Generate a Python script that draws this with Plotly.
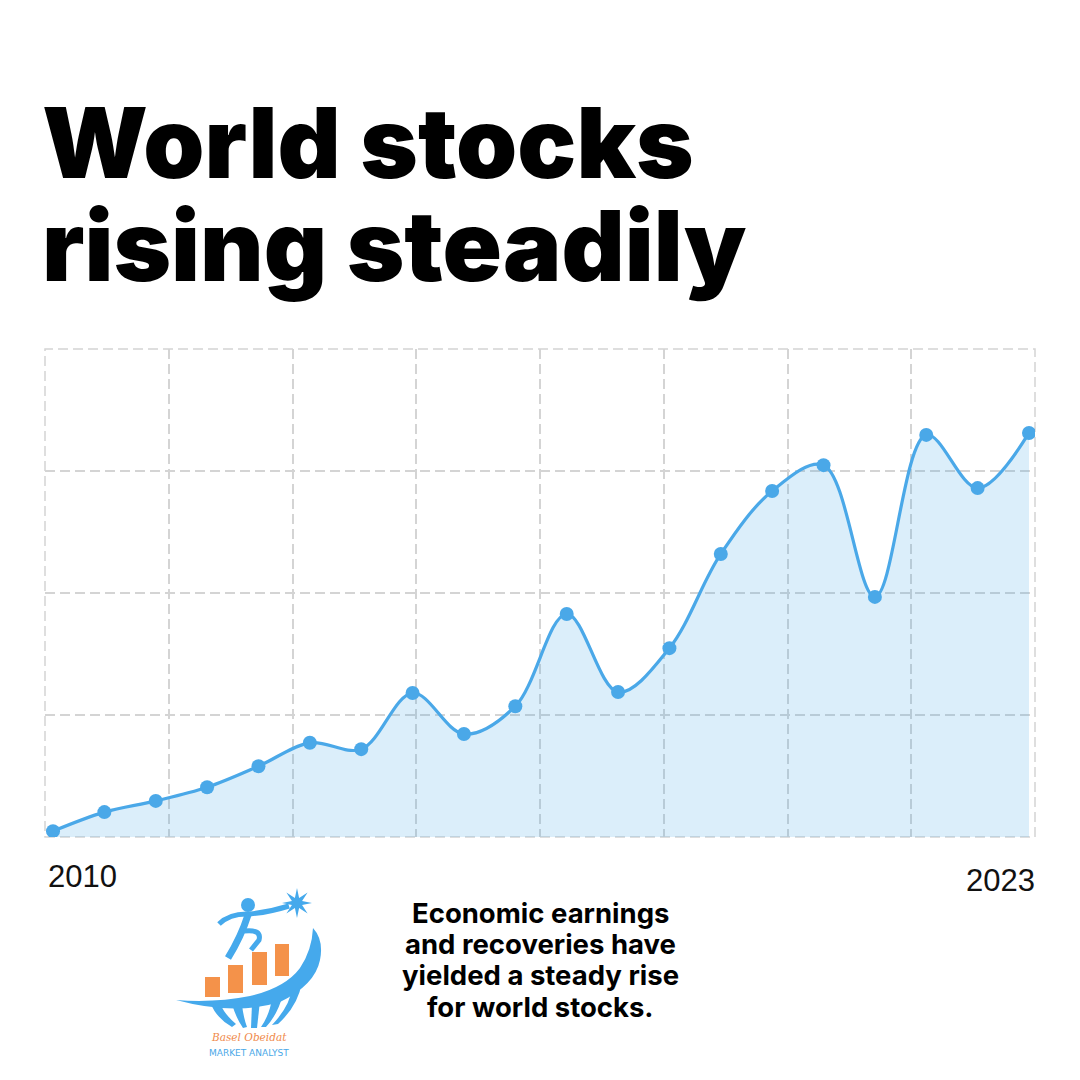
import math
import plotly.graph_objects as go

# ---------------- data ----------------
point_index = list(range(20))
index_values = [1.2, 5.1, 7.4, 10.2, 14.5, 19.3, 18.0, 29.5, 21.1, 26.8,
                45.7, 29.7, 38.7, 58.0, 70.9, 76.2, 49.2, 82.4, 71.5, 82.8]
start_label = "2010"
end_label = "2023"
title_lines = ["World stocks", "rising steadily"]
caption_lines = ["Economic earnings", "and recoveries have",
                 "yielded a steady rise", "for world stocks."]
logo_name = "Basel Obeidat"
logo_role = "MARKET ANALYST"

W = H = 1080
OFF = 8  # page body margin
def px(x):
    return (x - OFF) / W
def py(y):
    return 1 - (y - OFF) / H

X_MIN, X_MAX = -0.156, 19.117
x_grid = [X_MIN + i * (X_MAX - X_MIN) / 8 for i in range(9)]
y_grid = [0, 25, 50, 75, 100]

LINE = "#4aa8e8"
GRID = "#d4d4d4"
fig = go.Figure()
fig.add_trace(go.Scatter(
    x=point_index, y=index_values, mode="lines+markers",
    line=dict(color=LINE, width=3.2, shape="spline", smoothing=1),
    marker=dict(color=LINE, size=14),
    fill="tozeroy", fillcolor="rgba(74,168,232,0.2)",
    hoverinfo="skip", showlegend=False,
))

fig.update_layout(
    width=W, height=H, margin=dict(l=0, r=0, t=0, b=0),
    paper_bgcolor="white", plot_bgcolor="white",
    xaxis=dict(domain=[px(45), px(1035)], range=[X_MIN, X_MAX],
               tickvals=x_grid, showticklabels=False, ticks="",
               showgrid=True, gridcolor=GRID, gridwidth=1.5,
               griddash="10px,5px", zeroline=False, showline=False),
    yaxis=dict(domain=[py(837), py(349)], range=[0, 100],
               tickvals=y_grid, showticklabels=False, ticks="",
               showgrid=True, gridcolor=GRID, gridwidth=1.5,
               griddash="10px,5px", zeroline=False, showline=False),
)

ann = []
# Title (one annotation per line for tight leading)
for line, ymid in zip(title_lines, [142, 245]):
    ann.append(dict(text=line, x=px(40), y=py(ymid),
                    xref="paper", yref="paper", xanchor="left", yanchor="middle",
                    align="left", showarrow=False,
                    font=dict(family="Inter", size=98, color="#000", weight=900)))
# Year labels
ann.append(dict(text=start_label, x=px(46), y=py(876), xref="paper", yref="paper",
                xanchor="left", yanchor="middle", showarrow=False,
                font=dict(family="Liberation Sans", size=31, color="#111")))
ann.append(dict(text=end_label, x=px(1037), y=py(880), xref="paper", yref="paper",
                xanchor="right", yanchor="middle", showarrow=False,
                font=dict(family="Liberation Sans", size=31, color="#111")))
# Caption
for line, ymid in zip(caption_lines, [913, 944, 975, 1007]):
    ann.append(dict(text=line, x=px(540), y=py(ymid),
                    xref="paper", yref="paper", xanchor="center", yanchor="middle",
                    align="center", showarrow=False,
                    font=dict(family="Inter", size=27.5, color="#000", weight=700)))
# Logo text
ann.append(dict(text="<i>" + logo_name + "</i>", x=px(249), y=py(1037),
                xref="paper", yref="paper", xanchor="center", yanchor="middle",
                showarrow=False,
                font=dict(family="DejaVu Serif", size=10.5, color="#f08a4b")))
ann.append(dict(text=logo_role, x=px(249), y=py(1053),
                xref="paper", yref="paper", xanchor="center", yanchor="middle",
                showarrow=False,
                font=dict(family="DejaVu Sans", size=9, color="#4aa8e8")))
fig.update_layout(annotations=ann)

def P(pts, close=True):
    s = "M " + " L ".join(f"{px(x):.5f},{py(y):.5f}" for x, y in pts)
    return s + (" Z" if close else "")

def Q(cmds):
    out = []
    for c in cmds:
        if isinstance(c, str):
            out.append(c)
        else:
            out.append(f"{px(c[0]):.5f},{py(c[1]):.5f}")
    return " ".join(out)

shapes = []
# dashed frame of the plot area
shapes.append(dict(type="rect", xref="x domain", yref="y domain",
                   x0=0, x1=1, y0=0, y1=1, layer="below",
                   line=dict(color=GRID, width=1.5, dash="10px,5px")))
BLUE = "#45a9ec"
ORANGE = "#f4924a"

def filled(cmds, color=BLUE):
    shapes.append(dict(type="path", xref="paper", yref="paper", path=Q(cmds),
                       fillcolor=color, line=dict(width=0)))

def stroked(cmds, w, color=BLUE):
    shapes.append(dict(type="path", xref="paper", yref="paper", path=Q(cmds),
                       line=dict(color=color, width=w)))

# globe segments (under the swoosh)
filled(["M", (210, 1002), "Q", (216, 1018), (232, 1027), "L", (236, 1024),
        "Q", (224, 1014), (220, 1003), "Z"])
filled(["M", (232, 1004), "Q", (236, 1018), (243, 1028), "L", (247, 1027),
        "Q", (243, 1016), (242, 1004), "Z"])
filled(["M", (252, 1003), "L", (251, 1028), "L", (257, 1028), "L", (260, 1001), "Z"])
filled(["M", (272, 998), "Q", (270, 1014), (261, 1027), "L", (266, 1027),
        "Q", (278, 1014), (283, 994), "Z"])
filled(["M", (292, 988), "Q", (290, 1006), (272, 1025), "L", (278, 1024),
        "Q", (298, 1006), (302, 982), "Z"])
# orange bars
for (x0, x1, top, bot) in [(205, 220, 977, 997), (228, 243, 965, 993),
                           (252, 267, 952, 985), (275, 289, 944, 976)]:
    shapes.append(dict(type="rect", xref="paper", yref="paper",
                       x0=px(x0), x1=px(x1), y0=py(bot), y1=py(top),
                       fillcolor=ORANGE, line=dict(width=0)))
# swoosh
filled(["M", (176, 1000), "Q", (235, 1016), (280, 1002), "Q", (315, 985), (320, 960),
        "Q", (324, 940), (313, 928), "Q", (312, 950), (300, 968),
        "Q", (285, 988), (250, 996), "Q", (215, 1003), (176, 1000), "Z"])
# runner
shapes.append(dict(type="circle", xref="paper", yref="paper",
                   x0=px(241), x1=px(255), y0=py(912), y1=py(898),
                   fillcolor=BLUE, line=dict(width=0)))
stroked(["M", (219, 924), "Q", (230, 913), (250, 914), "Q", (270, 912), (289, 906)], 5)
stroked(["M", (248, 915), "Q", (241, 937), (228, 958)], 7)
stroked(["M", (244, 931), "Q", (262, 929), (259, 940), "L", (251, 950)], 5)
# star
cx, cy = 297, 903
pts = []
for k in range(16):
    r = 15 if k % 2 == 0 else 5.5
    a = math.pi / 2 + k * math.pi / 8
    pts.append((cx + r * math.cos(a), cy - r * math.sin(a)))
shapes.append(dict(type="path", xref="paper", yref="paper", path=P(pts),
                   fillcolor=BLUE, line=dict(width=0)))
fig.update_layout(shapes=shapes)

fig.write_html("out.html")
